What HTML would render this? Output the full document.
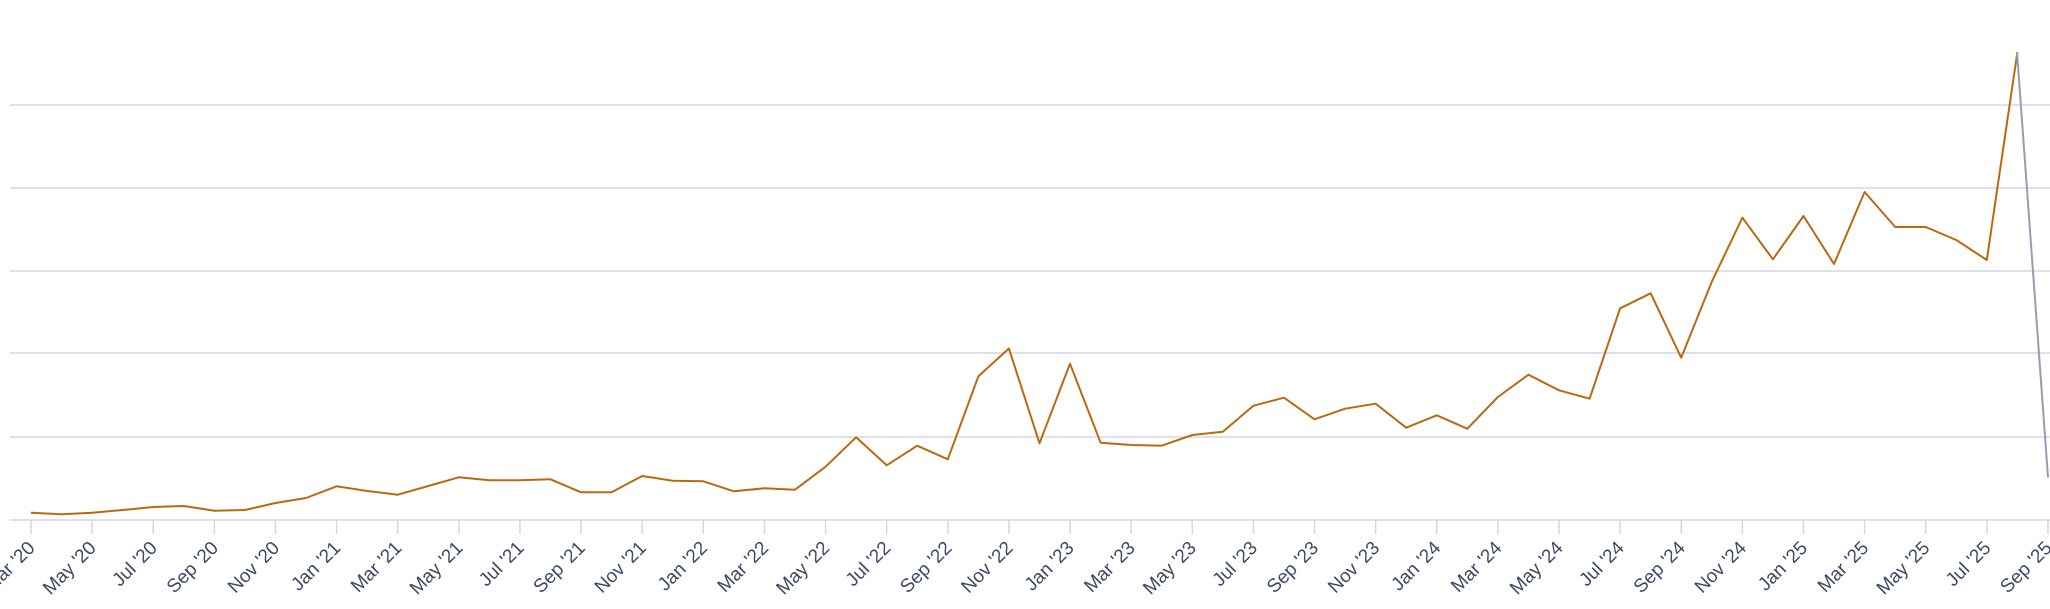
<!DOCTYPE html>
<html><head><meta charset="utf-8"><style>
html,body{margin:0;padding:0;background:#fff;width:2050px;height:609px;overflow:hidden}
svg{display:block}
text{font-family:"Liberation Sans",sans-serif;font-size:19px;fill:#3d4a66}
</style></head><body>
<svg width="2050" height="609" viewBox="0 0 2050 609" xmlns="http://www.w3.org/2000/svg">
<g stroke="#d6d6e6" stroke-width="1.5">
<line x1="10" y1="105" x2="2050" y2="105"/>
<line x1="10" y1="188" x2="2050" y2="188"/>
<line x1="10" y1="271" x2="2050" y2="271"/>
<line x1="10" y1="353" x2="2050" y2="353"/>
<line x1="10" y1="437" x2="2050" y2="437"/>
<line x1="10" y1="520" x2="2050" y2="520"/>
</g>
<g id="ticks" stroke="#d6d6e6" stroke-width="1.5"></g>
<g id="labels"></g>
<polyline id="main" fill="none" stroke="#b86a12" stroke-width="2" stroke-linejoin="round"/>
<line x1="2017" y1="52" x2="2048" y2="477.5" stroke="#9a9ab6" stroke-width="2"/>
</svg>
<script>
var ys=[512.7,514.3,512.7,510,507,506,510.7,510,503,498,486.3,491,494.7,486,477.3,480.3,480.3,479.3,492.3,492.3,476,480.7,481.3,491.3,488.3,489.7,466.7,437.3,465.3,445.7,459.3,376.3,348.5,443.3,363.7,442.7,445,445.7,435,431.7,405.7,397.7,419.3,408.7,403.7,427.7,415.3,428.7,397,374.7,390.3,398.7,308.3,293.3,357.7,281.7,217.7,259.3,216,264,192,227,227,240,260,52];
var pts=ys.map(function(y,i){return (31+i*30.56).toFixed(1)+","+y}).join(" ");
document.getElementById("main").setAttribute("points",pts);
var m=["Jan","Feb","Mar","Apr","May","Jun","Jul","Aug","Sep","Oct","Nov","Dec"];
var t="",l="";
for(var i=0;i<=66;i+=2){var x=31+i*30.56;var mi=(2+i)%12;var yr=20+Math.floor((2+i)/12);
t+='<line x1="'+x+'" y1="520" x2="'+x+'" y2="534"/>';
l+='<text text-anchor="end" transform="translate('+(x+5)+',549) rotate(-45)">'+m[mi]+" '"+yr+'</text>';}
document.getElementById("ticks").innerHTML=t;
document.getElementById("labels").innerHTML=l;
</script>
</body></html>
